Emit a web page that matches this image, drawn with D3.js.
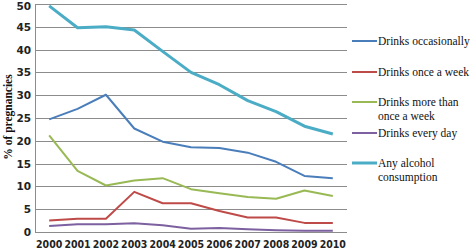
<!DOCTYPE html>
<html>
<head>
<meta charset="utf-8">
<script src="https://cdn.jsdelivr.net/npm/d3@7"></script>
<style>
  body { margin: 0; background: #fff; }
  svg { display: block; }
</style>
</head>
<body>
<div id="chart"></div>
<script>
const years = ['2000', '2001', '2002', '2003', '2004', '2005', '2006', '2007', '2008', '2009', '2010'];
const yTicks = [0, 5, 10, 15, 20, 25, 30, 35, 40, 45, 50];

const occasionally = [24.7, 27.0, 30.1, 22.7, 19.8, 18.6, 18.4, 17.4, 15.4, 12.3, 11.8];
const onceAWeek = [2.5, 2.9, 2.9, 8.8, 6.3, 6.3, 4.6, 3.2, 3.2, 2.0, 2.0];
const moreThanOnce = [21.2, 13.4, 10.2, 11.3, 11.8, 9.4, 8.5, 7.7, 7.3, 9.1, 7.9];
const everyDay = [1.3, 1.7, 1.7, 1.9, 1.5, 0.7, 0.9, 0.6, 0.4, 0.3, 0.3];
const anyAlcohol = [49.6, 44.8, 45.0, 44.3, 39.6, 35.0, 32.3, 28.8, 26.4, 23.2, 21.5];

const seriesNames = [['Drinks occasionally'], ['Drinks once a week'], ['Drinks more than', 'once a week'], ['Drinks every day'], ['Any alcohol', 'consumption']];
const seriesColors = ['#4a7ebb', '#be4b48', '#98b954', '#7d60a0', '#4bacc6'];
const seriesValues = [occasionally, onceAWeek, moreThanOnce, everyDay, anyAlcohol];

const width = 473, height = 251;
const plot = { left: 35, right: 347, top: 4, bottom: 232 };

const svg = d3.select('#chart').append('svg')
    .attr('width', width)
    .attr('height', height);

const x = d3.scalePoint()
    .domain(years)
    .range([plot.left, plot.right])
    .padding(0.5);

const y = d3.scaleLinear()
    .domain([0, 50])
    .range([plot.bottom, plot.top]);

// grid lines
svg.append('g')
    .selectAll('line')
    .data(yTicks)
    .enter()
    .append('line')
    .attr('x1', plot.left)
    .attr('x2', plot.right)
    .attr('y1', d => Math.round(y(d)) + 0.5)
    .attr('y2', d => Math.round(y(d)) + 0.5)
    .attr('stroke', '#8c8c8c')
    .attr('stroke-width', 1);

// left axis line
svg.append('line')
    .attr('x1', plot.left + 0.5)
    .attr('x2', plot.left + 0.5)
    .attr('y1', plot.top)
    .attr('y2', plot.bottom + 1)
    .attr('stroke', '#8c8c8c');

// y tick labels (top one nudged so it stays inside the page)
svg.append('g')
    .selectAll('text')
    .data(yTicks)
    .enter()
    .append('text')
    .attr('x', 31)
    .attr('y', d => Math.max(y(d) + 4, 10))
    .attr('text-anchor', 'end')
    .style('font-family', '"DejaVu Sans", sans-serif')
    .style('font-size', '10.5px')
    .style('font-weight', 'bold')
    .style('fill', '#222')
    .text(d => d);

// x tick labels
svg.append('g')
    .selectAll('text')
    .data(years)
    .enter()
    .append('text')
    .attr('x', d => x(d))
    .attr('y', 248)
    .attr('text-anchor', 'middle')
    .style('font-family', '"DejaVu Sans Condensed", "DejaVu Sans", sans-serif')
    .style('font-size', '10.5px')
    .style('font-weight', 'bold')
    .style('fill', '#222')
    .text(d => d);

// y axis title
svg.append('text')
    .attr('transform', 'translate(12,117) rotate(-90)')
    .attr('text-anchor', 'middle')
    .style('font-family', '"Liberation Serif", serif')
    .style('font-size', '11.5px')
    .style('font-weight', 'bold')
    .style('fill', '#111')
    .text('% of pregnancies');

const line = d3.line()
    .x((d, i) => x(years[i]))
    .y(d => y(d));

seriesValues.forEach((vals, i) => {
    svg.append('path')
        .datum(vals)
        .attr('d', line)
        .attr('fill', 'none')
        .attr('stroke', seriesColors[i])
        .attr('stroke-width', i === 4 ? 3 : 2)
        .attr('stroke-linejoin', 'round');
});

// legend
const legendY = [41, 72, 102, 133, 163];
seriesNames.forEach((lines, i) => {
    const g = svg.append('g');
    g.append('line')
        .attr('x1', 352)
        .attr('x2', 377)
        .attr('y1', legendY[i])
        .attr('y2', legendY[i])
        .attr('stroke', seriesColors[i])
        .attr('stroke-width', i === 4 ? 3 : 2);
    lines.forEach((t, j) => {
        g.append('text')
            .attr('x', 378)
            .attr('y', legendY[i] + 4 + j * 14)
            .style('font-family', '"Liberation Serif", serif')
            .style('font-size', '11.5px')
            .style('fill', '#111')
            .text(t);
    });
});
</script>
</body>
</html>
